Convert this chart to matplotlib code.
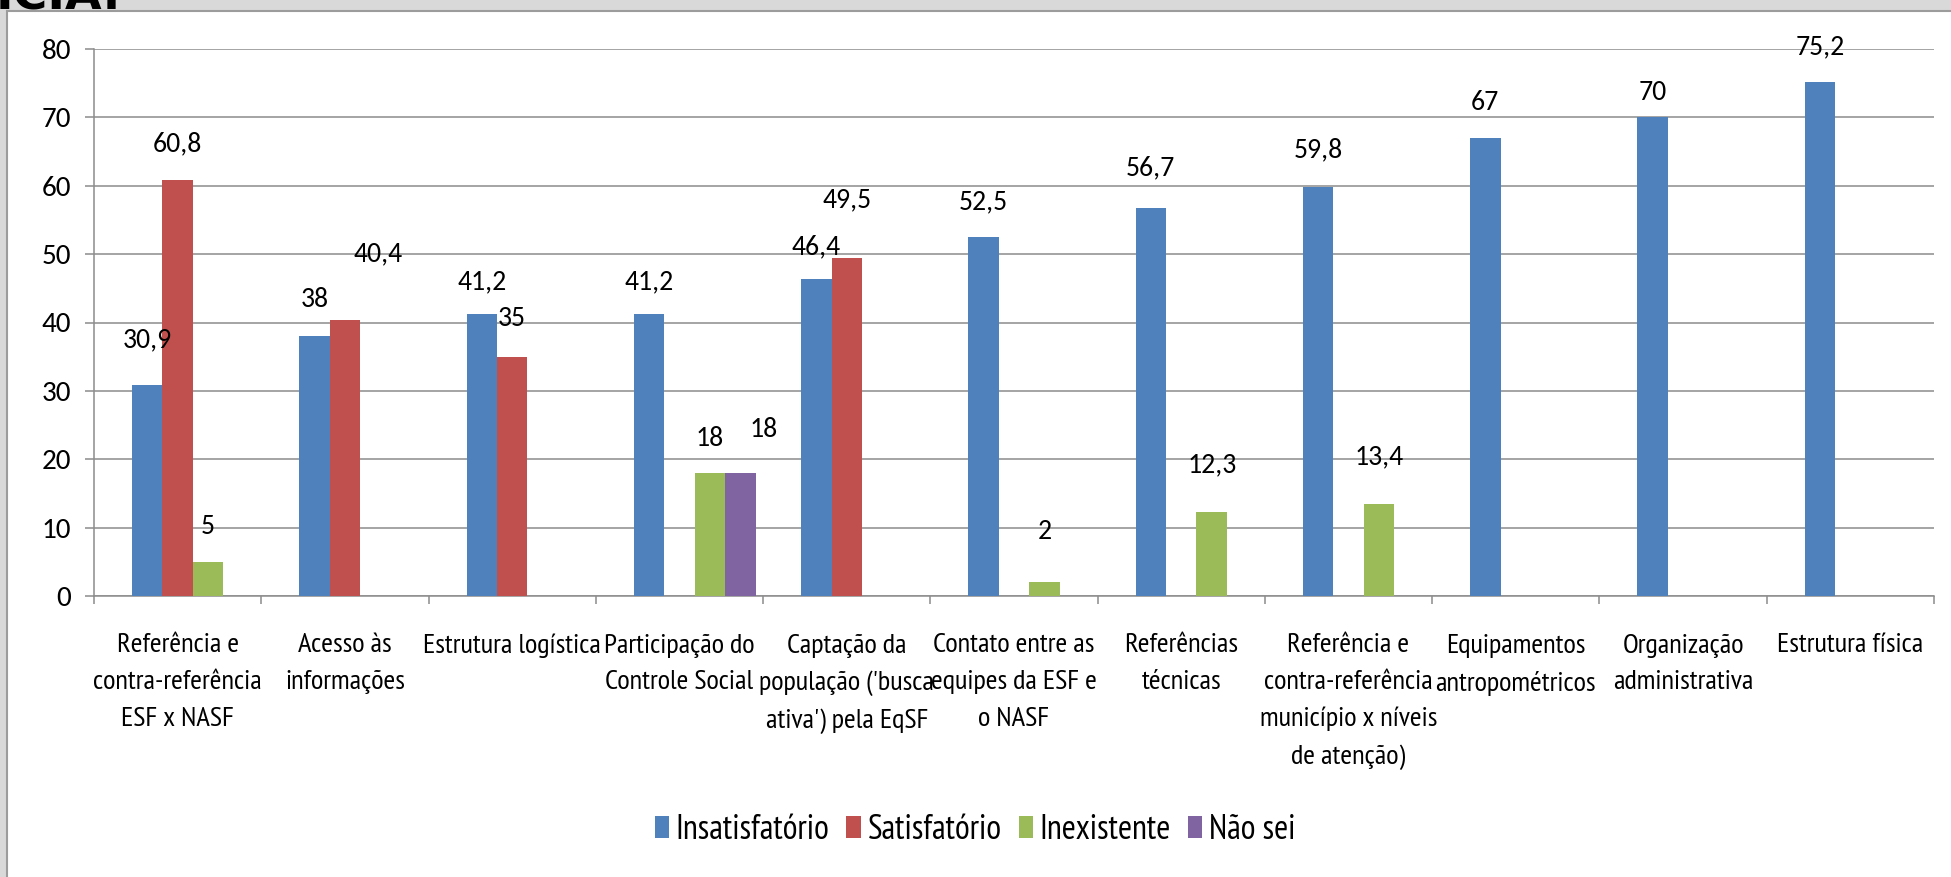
import numpy as np
import matplotlib.pyplot as plt
from matplotlib.patches import Rectangle

plt.rcParams['font.family'] = ['Carlito', 'DejaVu Sans']
fonte_estreita = ['PT Sans Narrow', 'Carlito', 'DejaVu Sans']

# dados
categorias = [
    "Referência e\ncontra-referência\nESF x NASF",
    "Acesso às\ninformações",
    "Estrutura logística",
    "Participação do\nControle Social",
    "Captação da\npopulação ('busca\nativa') pela EqSF",
    "Contato entre as\nequipes da ESF e\no NASF",
    "Referências\ntécnicas",
    "Referência e\ncontra-referência\nmunicípio x níveis\nde atenção)",
    "Equipamentos\nantropométricos",
    "Organização\nadministrativa",
    "Estrutura física",
]
series = ["Insatisfatório", "Satisfatório", "Inexistente", "Não sei"]
insatisfatorio = [30.9, 38, 41.2, 41.2, 46.4, 52.5, 56.7, 59.8, 67, 70, 75.2]
satisfatorio = [60.8, 40.4, 35, None, 49.5, None, None, None, None, None, None]
inexistente = [5, None, None, 18, None, 2, 12.3, 13.4, None, None, None]
nao_sei = [None, None, None, 18, None, None, None, None, None, None, None]

cores = ['#4F81BD', '#C0504D', '#9BBB59', '#8064A2']

# posição dos rótulos (deslocamento x em categorias, altura acima da barra)
desloc_rotulos = {
    (0, 0): (0, 6.5), (0, 1): (0, 5.3), (0, 2): (0, 4.8), (0, 3): (0, 4.8),
    (0, 4): (0, 4.7), (0, 5): (0, 5.1), (0, 6): (0, 5.9), (0, 7): (0, 5.4),
    (0, 8): (0, 5.2), (0, 9): (0, 3.6), (0, 10): (0, 5.1),
    (1, 0): (0, 5.3), (1, 1): (0.2, 9.6), (1, 2): (0, 5.6), (1, 4): (0, 8.4),
    (2, 0): (0, 5.1), (2, 3): (0, 5.1), (2, 5): (0, 7.4), (2, 6): (0, 6.9),
    (2, 7): (0, 6.9),
    (3, 3): (0.14, 6.3),
}

fig = plt.figure(figsize=(19.51, 8.77), dpi=100)
fig.patch.set_facecolor('#d9d9d9')
fig.patches.append(Rectangle((7 / 1951, -0.05), 1.1, 1 - 11 / 877 + 0.05,
                             transform=fig.transFigure, facecolor='white',
                             edgecolor='#9c9c9c', lw=1.5, zorder=-5))
fig.text(-0.002, 1 - 9 / 877, "ICIA.", fontsize=34, fontweight='bold',
         family='DejaVu Sans', va='baseline', ha='left')

ax = fig.add_axes([94 / 1951, 1 - 596 / 877, (1934 - 94) / 1951, (596 - 49) / 877])
ax.set_facecolor('none')

x = np.arange(len(categorias))
w = 0.182
todas = [insatisfatorio, satisfatorio, inexistente, nao_sei]
for i, (nome, vals) in enumerate(zip(series, todas)):
    v = np.array([np.nan if a is None else a for a in vals], dtype=float)
    pos = x + (i - 1.5) * w
    ax.bar(pos, v, width=w, color=cores[i], label=nome, align='edge', zorder=3)
    for j, val in enumerate(v):
        if np.isnan(val):
            continue
        dx, dy = desloc_rotulos.get((i, j), (0, 5))
        txt = f"{val:g}".replace('.', ',')
        ax.text(pos[j] + w / 2 + dx, val + dy, txt, ha='center', va='center',
                fontsize=20, zorder=4)

ax.set_xlim(-0.5, len(categorias) - 0.5)
ax.set_ylim(0, 80)
ax.set_yticks(range(0, 81, 10))
ax.tick_params(axis='y', length=6.5, width=1.1, color='#8c8c8c', pad=10,
               labelsize=21)
ax.set_xticks(x)
ax.set_xticklabels(categorias, fontsize=20.5, linespacing=1.66,
                   family=fonte_estreita)
ax.tick_params(axis='x', length=0, pad=27)
ax.set_xticks(np.arange(-0.5, len(categorias), 1), minor=True)
ax.tick_params(axis='x', which='minor', length=6, width=1.1, color='#8c8c8c')

ax.yaxis.grid(True, color='#8c8c8c', lw=1.1, zorder=0)
ax.set_axisbelow(True)
for s in ['top', 'right']:
    ax.spines[s].set_visible(False)
for s in ['left', 'bottom']:
    ax.spines[s].set_color('#8c8c8c')
    ax.spines[s].set_linewidth(1.1)

fig.legend(loc='center', bbox_to_anchor=(975 / 1951, 1 - 830 / 877), ncol=4,
           frameon=False, prop={'family': fonte_estreita, 'size': 24.5},
           handlelength=0.42, handleheight=0.6, handletextpad=0.2,
           columnspacing=0.5)

fig.savefig('out.png', dpi=100, facecolor=fig.get_facecolor())
